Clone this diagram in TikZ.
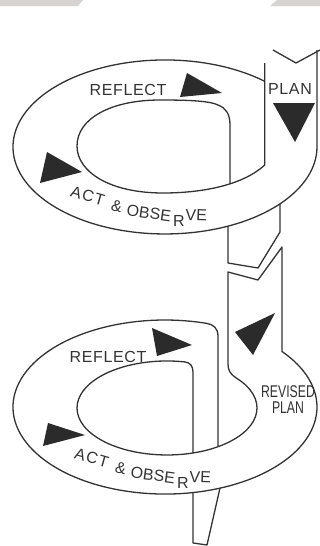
\documentclass[tikz,border=0pt]{standalone}
\usepackage{fontspec}
\setmainfont{Liberation Sans}
\newfontfamily\narrowfont[FakeStretch=0.72]{Liberation Sans}
\definecolor{ink}{HTML}{333333}
\definecolor{tipfill}{HTML}{2B2B2B}
\definecolor{smudge}{HTML}{D7D3D3}
\tikzset{
  edge/.style={draw=ink, line width=1.3pt, line join=round},
  tip/.style={fill=tipfill},
  word/.style={font=\fontsize{16}{16}\selectfont\addfontfeatures{LetterSpace=4}, text=ink, inner sep=0pt},
  curl/.style={font=\fontsize{16}{16}\selectfont, text=ink, inner sep=0pt},
  wide curl/.style={curl, font=\fontsize{16}{16}\selectfont\addfontfeatures{LetterSpace=8}},
  narrow/.style={font=\narrowfont\fontsize{17}{16}\selectfont, text=ink, inner sep=0pt, align=center},
}
\begin{document}
\begin{tikzpicture}[x=1pt, y=-1pt]
    \useasboundingbox (0,0) rectangle (320,546);

    % Randschatten oben
    \fill[smudge] (0,0) -- (83,0) -- (78,6) -- (0,6) -- cycle;
    \fill[smudge] (277,0) -- (320,0) -- (320,6) -- (270,6) -- cycle;

    % Obere Schleife
    \draw[edge] (264.7,81.3) arc[start angle=-49, end angle=-360, x radius=152, y radius=87] -- (317,50);
    \draw[edge] (273,50) -- (296,63) -- (320,50);
    \draw[edge] (264.7,63) -- (264.7,165) .. controls (242,186) and (200,193) .. (163,193)
        .. controls (110,193) and (77,172) .. (77,146) .. controls (77,118) and (112,100) .. (160,100)
        .. controls (190,100) and (210,101) .. (218,105) .. controls (226,108) and (230,114) .. (230,125) -- (230,184);

    % Abriss
    \draw[edge] (228,226) -- (228,263) -- (258,268) -- (280,232) -- (280,204);

    % Untere Schleife
    \draw[edge] (218,446.7) -- (218,336) .. controls (218,328) and (213,324.4) .. (206.9,323.4)
        arc[start angle=286, end angle=-39.67, x radius=152, y radius=87]
        -- (282,247) -- (258,280) -- (228,272) -- (228,364)
        .. controls (228,370) and (230.2,374.2) .. (236,377.8)
        arc[start angle=-39.94, end angle=281.5, x radius=90, y radius=47]
        .. controls (190,362.5) and (193,366) .. (193,372) -- (193,453);

    % Auslauf
    \draw[edge] (193,492.5) -- (193,543) -- (207,545) -- (220,488);

    % Pfeile
    \fill[tip] (180,97) -- (187,73) -- (222,93) -- cycle;
    \fill[tip] (40,183) -- (47,152) -- (82,172) -- cycle;
    \fill[tip] (273,103) -- (315,103) -- (295,142) -- cycle;
    \fill[tip] (152,328) -- (192,345) -- (157,356) -- cycle;
    \fill[tip] (43,446) -- (48,423) -- (85,435) -- cycle;
    \fill[tip] (235,332) -- (275,313) -- (253,355) -- cycle;

    % Beschriftung oben
    \node[word] (reflectA) at (128,90) {REFLECT};
    \node[word] (planA) at (290,89) {PLAN};
    \node[wide curl, rotate=-16] (actA) at (87.8,196) {ACT};
    \node[curl, rotate=-12] (andA) at (116.8,206) {\&};
    \node[curl, rotate=-8] (obseA) at (148.9,213) {OBSE};
    \node[curl] (rA) at (178.9,220.5) {R};
    \node[curl, rotate=-2] (veA) at (196.3,215) {VE};

    % Beschriftung unten
    \node[word] (reflectB) at (108,356.5) {REFLECT};
    \node[narrow] (revised) at (288,400) {REVISED\\PLAN};
    \node[wide curl, rotate=-16] (actB) at (91.8,458) {ACT};
    \node[curl, rotate=-12] (andB) at (120.8,468) {\&};
    \node[curl, rotate=-8] (obseB) at (152.9,475) {OBSE};
    \node[curl] (rB) at (182.9,482.5) {R};
    \node[curl, rotate=-2] (veB) at (200.3,477) {VE};
\end{tikzpicture}
\end{document}
